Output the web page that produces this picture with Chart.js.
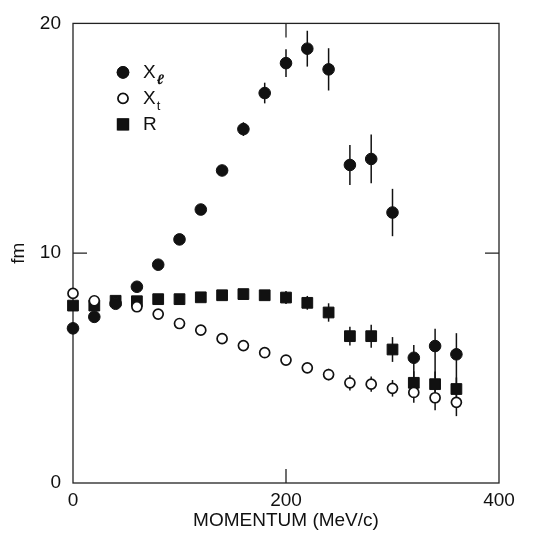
<!DOCTYPE html>
<html>
<head>
<meta charset="utf-8">
<script src="https://cdn.jsdelivr.net/npm/chart.js@4.4.1/dist/chart.umd.min.js"></script>
<style>
    html, body { margin: 0; padding: 0; background: #fff; }
    #wrap { width: 542px; height: 538px; }
</style>
</head>
<body>
<div id="wrap"><canvas id="chart" width="542" height="538"></canvas></div>
<script>
// momentum values (MeV/c)
const momentum = [0, 20, 40, 60, 80, 100, 120, 140, 160, 180, 200, 220, 240, 260, 280, 300, 320, 340, 360];

// X_l (filled circles)
const xl = [6.73, 7.23, 7.8, 8.54, 9.5, 10.6, 11.9, 13.6, 15.4, 16.97, 18.27, 18.9, 18.0, 13.84, 14.1, 11.77, 5.45, 5.96, 5.6];
const xlErrUp = [0, 0, 0, 0, 0, 0, 0, 0.2, 0.3, 0.45, 0.6, 0.78, 0.92, 0.87, 1.06, 1.03, 0.55, 0.75, 0.92];
const xlErrDown = [0, 0, 0, 0, 0, 0, 0, 0.2, 0.3, 0.45, 0.6, 0.78, 0.92, 0.87, 1.06, 1.03, 1.05, 1.4, 1.5];

// X_t (open circles)
const xt = [8.25, 7.93, 7.85, 7.67, 7.35, 6.94, 6.65, 6.28, 5.98, 5.67, 5.35, 5.01, 4.72, 4.36, 4.3, 4.12, 3.94, 3.71, 3.51];
const xtErr = [0, 0, 0, 0, 0, 0, 0, 0, 0, 0, 0.1, 0.2, 0.25, 0.33, 0.33, 0.36, 0.45, 0.54, 0.6];

// R (filled squares)
const r = [7.72, 7.72, 7.93, 7.91, 8.0, 8.0, 8.08, 8.17, 8.22, 8.17, 8.07, 7.84, 7.42, 6.39, 6.39, 5.81, 4.36, 4.3, 4.09];
const rErr = [0, 0, 0, 0, 0, 0, 0, 0, 0, 0.15, 0.28, 0.3, 0.4, 0.41, 0.5, 0.54, 0.5, 0.55, 0.5];

// axis ticks
const xTicks = [0, 200, 400];
const yTicks = [0, 10, 20];

const ink = '#111';
const fontFamily = '"Liberation Sans", Arial, sans-serif';

function toPoints(values) {
    return momentum.map((m, i) => ({ x: m, y: values[i] }));
}

// vertical error bars, drawn under the markers
const errorBars = {
    id: 'errorBars',
    beforeDatasetsDraw(chart) {
        const ctx = chart.ctx;
        const yScale = chart.scales.y;
        ctx.save();
        ctx.strokeStyle = ink;
        ctx.lineWidth = 1.5;
        chart.data.datasets.forEach((ds, i) => {
            const meta = chart.getDatasetMeta(i);
            meta.data.forEach((pt, j) => {
                const up = ds.errUp[j];
                const down = ds.errDown[j];
                if (!up && !down) return;
                const v = ds.data[j].y;
                ctx.beginPath();
                ctx.moveTo(pt.x, yScale.getPixelForValue(v + up));
                ctx.lineTo(pt.x, yScale.getPixelForValue(v - down));
                ctx.stroke();
            });
        });
        ctx.restore();
    }
};

// box around the plot plus short inward ticks
const frame = {
    id: 'frame',
    beforeDatasetsDraw(chart) {
        const { ctx, chartArea: a, scales } = chart;
        const tickLen = 14;
        ctx.save();
        ctx.strokeStyle = '#222';
        ctx.lineWidth = 1.3;
        ctx.strokeRect(a.left, a.top, a.right - a.left, a.bottom - a.top);
        ctx.beginPath();
        xTicks.slice(1, -1).forEach(v => {
            const px = scales.x.getPixelForValue(v);
            ctx.moveTo(px, a.bottom); ctx.lineTo(px, a.bottom - tickLen);
            ctx.moveTo(px, a.top); ctx.lineTo(px, a.top + tickLen);
        });
        yTicks.slice(1, -1).forEach(v => {
            const py = scales.y.getPixelForValue(v);
            ctx.moveTo(a.left, py); ctx.lineTo(a.left + tickLen, py);
            ctx.moveTo(a.right, py); ctx.lineTo(a.right - tickLen, py);
        });
        ctx.stroke();
        ctx.restore();
    }
};

// legend inside the plot, top left, with subscripts
const insideLegend = {
    id: 'insideLegend',
    afterDatasetsDraw(chart) {
        const { ctx, chartArea: a } = chart;
        const mx = a.left + 50;
        let my = a.top + 49;
        ctx.save();
        chart.data.datasets.forEach(ds => {
            Chart.helpers.drawPoint(ctx, {
                pointStyle: ds.pointStyle,
                radius: ds.pointRadius,
                borderWidth: ds.pointBorderWidth
            }, mx, my);
            ctx.fillStyle = ds.pointBackgroundColor;
            ctx.strokeStyle = ds.pointBorderColor;
            ctx.lineWidth = ds.pointBorderWidth;
            ctx.fill();
            ctx.stroke();

            ctx.fillStyle = ink;
            ctx.textBaseline = 'middle';
            ctx.textAlign = 'left';
            ctx.font = '19px ' + fontFamily;
            ctx.fillText(ds.label, mx + 20, my);
            if (ds.sub) {
                const w = ctx.measureText(ds.label).width;
                ctx.font = (ds.sub === 'ℓ' ? 'italic bold 14px ' : '13px ') + fontFamily;
                ctx.fillText(ds.sub, mx + 21 + w, my + 8);
            }
            my += 26;
        });
        ctx.restore();
    }
};

const ctx = document.getElementById('chart').getContext('2d');
new Chart(ctx, {
    type: 'scatter',
    data: {
        datasets: [
            {
                label: 'X', sub: 'ℓ',
                data: toPoints(xl), errUp: xlErrUp, errDown: xlErrDown,
                pointStyle: 'circle', pointRadius: 5.8, pointBorderWidth: 1,
                pointBackgroundColor: ink, pointBorderColor: ink
            },
            {
                label: 'X', sub: 't',
                data: toPoints(xt), errUp: xtErr, errDown: xtErr,
                pointStyle: 'circle', pointRadius: 5, pointBorderWidth: 1.7,
                pointBackgroundColor: '#fff', pointBorderColor: ink
            },
            {
                label: 'R', sub: '',
                data: toPoints(r), errUp: rErr, errDown: rErr,
                pointStyle: 'rect', pointRadius: 7.6, pointBorderWidth: 1,
                pointBackgroundColor: ink, pointBorderColor: ink
            }
        ]
    },
    options: {
        responsive: false,
        animation: false,
        clip: false,
        layout: { padding: { left: 0, right: 43, top: 23, bottom: 0 } },
        plugins: {
            legend: { display: false },
            tooltip: { enabled: false }
        },
        elements: { point: { hoverRadius: 0 } },
        scales: {
            x: {
                type: 'linear',
                min: 0, max: 400,
                afterBuildTicks: scale => { scale.ticks = xTicks.map(v => ({ value: v })); },
                afterFit: scale => { scale.height = 55; },
                grid: { display: false, drawTicks: false },
                border: { display: false },
                ticks: { color: ink, padding: 6, maxRotation: 0, font: { family: fontFamily, size: 19 } },
                title: {
                    display: true, text: 'MOMENTUM (MeV/c)', color: ink,
                    padding: { top: 0, bottom: 6 },
                    font: { family: fontFamily, size: 19 }
                }
            },
            y: {
                type: 'linear',
                min: 0, max: 20,
                afterBuildTicks: scale => { scale.ticks = yTicks.map(v => ({ value: v })); },
                afterFit: scale => { scale.width = 73; },
                grid: { display: false, drawTicks: false },
                border: { display: false },
                ticks: { color: ink, padding: 12, font: { family: fontFamily, size: 19 } },
                title: {
                    display: true, text: 'fm', color: ink,
                    padding: { top: 7, bottom: 0 },
                    font: { family: fontFamily, size: 19 }
                }
            }
        }
    },
    plugins: [frame, errorBars, insideLegend]
});
</script>
</body>
</html>
